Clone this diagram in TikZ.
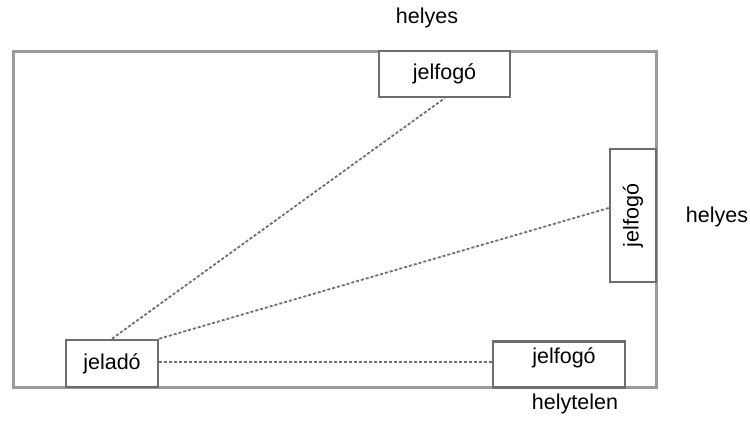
\documentclass[tikz,border=0pt]{standalone}
\usepackage{fontspec}
\setmainfont{Liberation Sans}
\definecolor{framegray}{HTML}{9A9A9A}
\definecolor{boxgray}{HTML}{6E6E6E}
\definecolor{linegray}{HTML}{707070}
\begin{document}
\begin{tikzpicture}[x=1pt,y=-1pt,
  lbl/.style={font=\fontsize{21.5}{25}\selectfont, inner sep=0pt},
  devbox/.style={draw=boxgray, line width=2.6pt, fill=white, inner sep=0pt,
    font=\fontsize{21.5}{25}\selectfont},
  sig/.style={draw=linegray, line width=1.8pt, dash pattern=on 3pt off 2pt}]
\useasboundingbox (0,0) rectangle (750,438);
% outer frame
\draw[framegray, line width=3pt] (13,52) rectangle (656,388);
% boxes
\node[devbox, minimum width=131pt, minimum height=46pt] (top) at (444.5,74) {jelfogó};
\node[devbox, minimum width=133pt, minimum height=46pt, rotate=90] (right) at (633,215.5) {jelfogó};
\node[devbox, minimum width=92pt, minimum height=47pt] (tx) at (112,363.5) {jeladó};
\node[devbox, minimum width=132pt, minimum height=46pt] (bot) at (559,364.5) {};
\node[lbl] (bottxt) at (564,358) {jelfogó};
% connectors
\draw[sig] (tx.north) -- (top.south);
\draw[sig] (tx.north east) -- ([yshift=7.5pt]right.north);
\draw[sig] ([yshift=1.5pt]tx.east) -- ([yshift=2.5pt]bot.west);
% labels
\node[lbl] (l1) at (427,18) {helyes};
\node[lbl] (l2) at (717,217) {helyes};
\node[lbl] (l3) at (575,404) {helytelen};
\end{tikzpicture}
\end{document}
